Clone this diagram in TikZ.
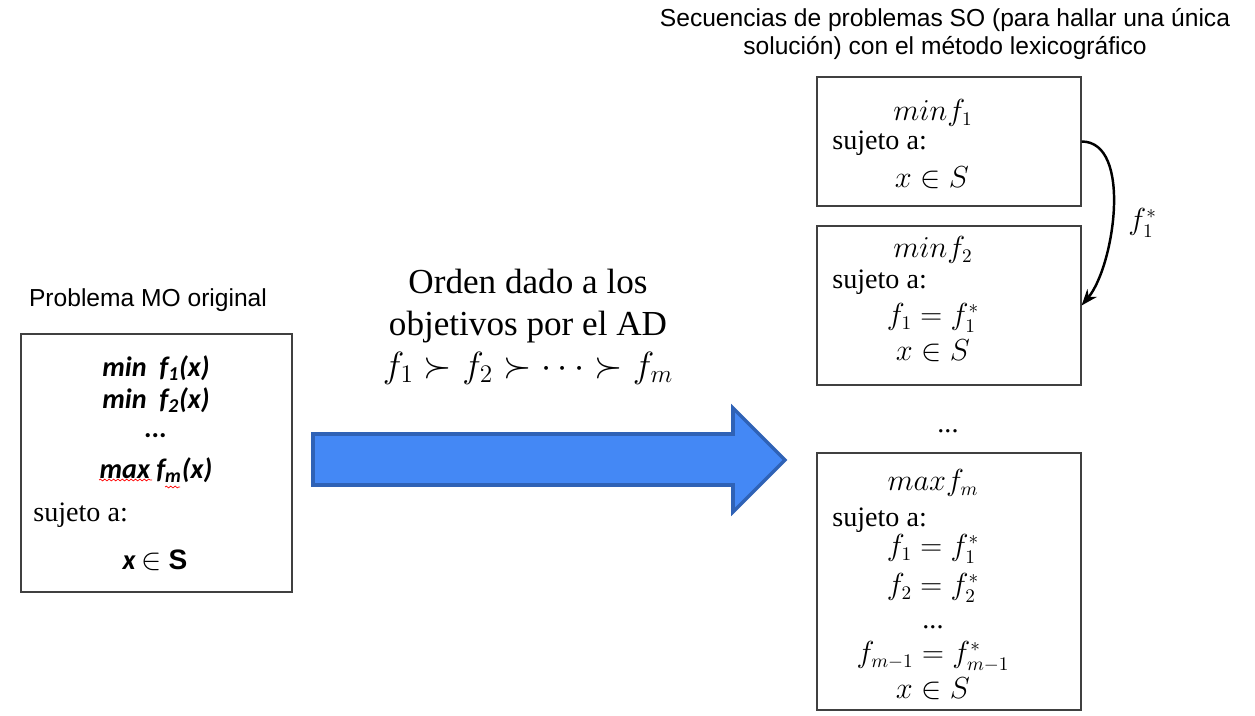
\documentclass[tikz,border=0pt]{standalone}
\usepackage{fontspec}
\setmainfont{Liberation Serif}
\newfontfamily\arialfont{Liberation Sans}
\newfontfamily\calibrifont{Carlito}
\usepackage[x11names]{xcolor}
\usetikzlibrary{arrows.meta}
\usetikzlibrary{decorations.pathmorphing}
\definecolor{azul-flecha}{RGB}{68,136,245}
\definecolor{borde-flecha}{RGB}{47,98,182}

\begin{document}
\begin{tikzpicture}[x=0.02cm, y=-0.02cm]
    \tikzstyle{caja}=[rectangle, draw=black!75, line width=0.7pt, inner sep=0pt]
    \tikzstyle{texto}=[inner sep=0pt, font=\fontsize{16}{19}\selectfont]
    \tikzstyle{negrita}=[inner sep=0pt, font=\calibrifont\bfseries\itshape\fontsize{16}{19}\selectfont]
    \tikzstyle{rotulo}=[align=center, font=\arialfont\fontsize{14}{16}\selectfont]
    \tikzstyle{subrayado}=[red, line width=0.4pt, decorate, decoration={snake, amplitude=0.5pt, segment length=2.5pt}]

    \useasboundingbox (0,0) rectangle (1255,716);

    \node[rotulo] (titulo-so) at (945,34) {Secuencias de problemas SO (para hallar una única\\solución) con el método lexicográfico};
    \node[rotulo] (titulo-mo) at (148,300) {Problema MO original};

    \node[caja, minimum width=5.42cm, minimum height=5.16cm] (caja-mo) at (156.5,463) {};
    \node[negrita] (min-f1) at (156,368) {min\ \ f\textsubscript{1}(x)};
    \node[negrita] (min-f2) at (156,400) {min\ \ f\textsubscript{2}(x)};
    \node[negrita] (puntos-mo) at (156,436) {...};
    \node[negrita] (max-fm) at (156,470) {max f\textsubscript{m}(x)};
    \draw[subrayado] (99,480) -- (152,480);
    \draw[subrayado] (165,487) -- (180,487);
    \node[texto, anchor=west] (sujeto-mo) at (33,515) {sujeto a:};
    \node[negrita] (x-en-s-mo) at (155,560) {x {\normalfont\upshape$\in$} {\arialfont\bfseries\upshape S}};

    \node[align=center, font=\fontsize{20}{23.8}\selectfont] (orden) at (528,327) {Orden dado a los\\objetivos por el AD\\$f_1 \succ f_2 \succ \cdots \succ f_m$};
    \draw[fill=azul-flecha, draw=borde-flecha, line width=2pt] (313,434) -- (733,434) -- (733,408) -- (785,460) -- (733,512) -- (733,485) -- (313,485) -- cycle;

    \node[caja, minimum width=5.28cm, minimum height=2.58cm] (caja-1) at (949,141.5) {};
    \node[texto] (min-1) at (933,113) {$minf_1$};
    \node[texto, anchor=west] (sujeto-1) at (832,143) {sujeto a:};
    \node[texto] (x-en-s-1) at (932,178) {$x \in S$};

    \node[caja, minimum width=5.28cm, minimum height=3.18cm] (caja-2) at (949,305.5) {};
    \node[texto] (min-2) at (933,250) {$minf_2$};
    \node[texto, anchor=west] (sujeto-2) at (832,282) {sujeto a:};
    \node[texto] (f1-2) at (933,318) {$f_1 = f_1^*$};
    \node[texto] (x-en-s-2) at (933,351) {$x \in S$};

    \draw[-Stealth, line width=1.4pt] (caja-1.east) to[out=0, in=50, looseness=0.8] node[texto, right=8pt, yshift=-8pt] {$f_1^*$} (caja-2.east);

    \node[texto] (puntos-cajas) at (948,431) {...};

    \node[caja, minimum width=5.28cm, minimum height=5.14cm] (caja-m) at (949,581.5) {};
    \node[texto] (max-m) at (933,483) {$maxf_m$};
    \node[texto, anchor=west] (sujeto-m) at (832,520) {sujeto a:};
    \node[texto] (f1-m) at (933,549) {$f_1 = f_1^*$};
    \node[texto] (f2-m) at (933,588) {$f_2 = f_2^*$};
    \node[texto] (puntos-m) at (933,627) {...};
    \node[texto] (fm1-m) at (933,657) {$f_{m-1} = f_{m-1}^*$};
    \node[texto] (x-en-s-m) at (933,689) {$x \in S$};
\end{tikzpicture}
\end{document}
